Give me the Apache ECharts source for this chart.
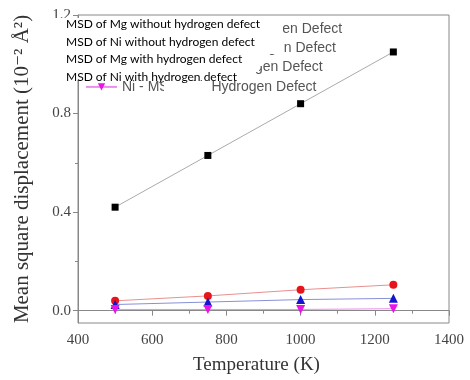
<!DOCTYPE html>
<html>
<head>
<meta charset="utf-8">
<script src="https://cdn.jsdelivr.net/npm/echarts@6/dist/echarts.min.js"></script>
<style>
  html, body { margin: 0; padding: 0; background: #fff; }
  #chart { width: 470px; height: 380px; }
</style>
</head>
<body>
<div id="chart"></div>
<script>
var temperatures = [500, 750, 1000, 1250];
var mgWithout = [0.42, 0.63, 0.84, 1.05];
var niWithout = [0.04, 0.06, 0.085, 0.105];
var mgWith = [0.025, 0.035, 0.045, 0.05];
var niWith = [0.005, 0.005, 0.005, 0.008];

var seriesNames = [
  'Mg - MSD without Hydrogen Defect',
  'Ni - MSD without Hydrogen Defect',
  'Mg - MSD with Hydrogen Defect',
  'Ni - MSD with Hydrogen Defect'
];
var overlayLabels = [
  'MSD of Mg without hydrogen defect',
  'MSD of Ni without hydrogen defect',
  'MSD of Mg with hydrogen defect',
  'MSD of Ni with hydrogen defect'
];
var yLabelValues = [0, 0.4, 0.8, 1.2];
var yMinorValues = [0.2, 0.6, 1.0];

function pairs(values) {
  var result = [];
  for (var i = 0; i < temperatures.length; i++) {
    result.push([temperatures[i], values[i]]);
  }
  return result;
}

function makeSeries(name, values, symbol, size, color, lineColor) {
  return {
    name: name,
    type: 'line',
    yAxisIndex: 0,
    data: pairs(values),
    symbol: symbol,
    symbolSize: size,
    itemStyle: { color: color },
    lineStyle: { color: lineColor, width: 1 },
    z: 3
  };
}

var serif = '"Liberation Serif", "DejaVu Serif", serif';

// white boxes of the pasted-over labels
var overlay = [
  { type: 'rect', shape: { x: 48, y: 18, width: 235, height: 17 }, style: { fill: '#fff' }, z: 100 },
  { type: 'rect', shape: { x: 62, y: 35, width: 222, height: 19 }, style: { fill: '#fff' }, z: 100 },
  { type: 'rect', shape: { x: 62, y: 54, width: 200, height: 12 }, style: { fill: '#fff' }, z: 100 },
  { type: 'rect', shape: { x: 62, y: 66, width: 197, height: 6 }, style: { fill: '#fff' }, z: 100 },
  { type: 'rect', shape: { x: 62, y: 72, width: 188, height: 8 }, style: { fill: '#fff' }, z: 100 },
  { type: 'rect', shape: { x: 164, y: 81, width: 48, height: 14 }, style: { fill: '#fff' }, z: 100 }
];
for (var i = 0; i < overlayLabels.length; i++) {
  overlay.push({
    type: 'text',
    x: 66,
    y: 24.5 + i * 17.5,
    z: 101,
    style: {
      text: overlayLabels[i],
      fill: '#000',
      fontSize: 12,
      fontFamily: 'Lato',
      verticalAlign: 'middle'
    }
  });
}

echarts.init(document.getElementById('chart')).setOption({
  animation: false,
  grid: {
    left: 78,
    right: 21,
    top: 15,
    bottom: 57,
    show: true,
    borderColor: '#888',
    borderWidth: 1
  },
  legend: {
    orient: 'vertical',
    left: 80,
    top: 17,
    itemWidth: 31,
    itemHeight: 9,
    itemGap: 5.3,
    data: seriesNames,
    textStyle: { fontFamily: '"Liberation Sans", Arial', fontSize: 14, color: '#555' }
  },
  xAxis: {
    type: 'value',
    min: 400,
    max: 1400,
    interval: 200,
    name: 'Temperature (K)',
    nameLocation: 'middle',
    nameGap: 33,
    nameTextStyle: { fontFamily: serif, fontSize: 19, color: '#333', padding: [0, 14, 0, 0] },
    axisLine: { lineStyle: { color: '#888' } },
    axisTick: { length: 5, lineStyle: { color: '#888' } },
    minorTick: { show: true, splitNumber: 2, length: 3, lineStyle: { color: '#888' } },
    axisLabel: {
      fontFamily: serif, fontSize: 15, color: '#444', margin: 10,
      formatter: function (v) { return String(v); }
    },
    splitLine: { show: false }
  },
  yAxis: [
    {
      type: 'value',
      min: -0.05,
      max: 1.2,
      name: 'Mean square displacement (10\u207B\u00B2 \u00C5\u00B2)',
      nameLocation: 'middle',
      nameGap: 45,
      nameTextStyle: { fontFamily: serif, fontSize: 21, color: '#333' },
      axisLine: { onZero: false, lineStyle: { color: '#888' } },
      axisTick: { length: 5, customValues: yLabelValues, lineStyle: { color: '#888' } },
      axisLabel: {
        customValues: yLabelValues,
        fontFamily: serif, fontSize: 15, color: '#444', margin: 7,
        formatter: function (v) { return v.toFixed(1); }
      },
      splitLine: { show: false }
    },
    {
      type: 'value',
      min: -0.05,
      max: 1.2,
      position: 'left',
      axisLine: { show: false },
      axisTick: { length: 3, customValues: yMinorValues, lineStyle: { color: '#888' } },
      axisLabel: { show: false },
      splitLine: { show: false }
    }
  ],
  series: [
    makeSeries(seriesNames[0], mgWithout, 'rect', 7, '#000', '#aaa'),
    makeSeries(seriesNames[1], niWithout, 'circle', 8, '#e8141c', '#e89090'),
    makeSeries(seriesNames[2], mgWith, 'triangle', 9, '#1414d0', '#8890d8'),
    makeSeries(seriesNames[3], niWith, 'path://M0,0 L10,0 L5,9 Z', 9, '#e814e8', '#e890e8')
  ],
  graphic: overlay
});
</script>
</body>
</html>
